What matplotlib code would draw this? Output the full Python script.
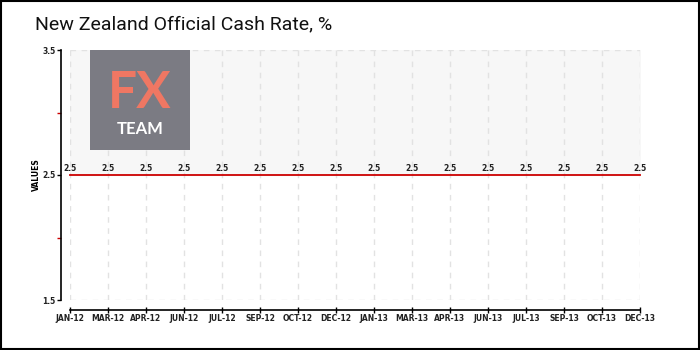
import matplotlib
matplotlib.use('Agg')
import matplotlib.pyplot as plt
from matplotlib.patches import Rectangle

# data
months = ['JAN-12', 'MAR-12', 'APR-12', 'JUN-12', 'JUL-12', 'SEP-12', 'OCT-12', 'DEC-12',
          'JAN-13', 'MAR-13', 'APR-13', 'JUN-13', 'JUL-13', 'SEP-13', 'OCT-13', 'DEC-13']
cash_rate = [2.5, 2.5, 2.5, 2.5, 2.5, 2.5, 2.5, 2.5,
             2.5, 2.5, 2.5, 2.5, 2.5, 2.5, 2.5, 2.5]

plt.rcParams['font.family'] = ['DejaVu Sans']

fig = plt.figure(figsize=(7, 3.5), dpi=100)
ax = fig.add_axes([70 / 700, 50 / 350, 570 / 700, 250 / 350])

x = list(range(len(months)))
ax.set_xlim(0, len(months) - 1)
ax.set_ylim(1.5, 3.5)

# shaded area above the line
ax.fill_between(x, cash_rate, 3.5, color='#f7f7f7', zorder=0)

# grid
for xi in x:
    ax.axvline(xi, color='#e2e2e2', lw=1, ls=(0, (4, 4)), zorder=1)
for yv in (1.5, 3.5):
    ax.axhline(yv, color='#e2e2e2', lw=1, ls=(0, (4, 4)), zorder=1)

ax.plot(x, cash_rate, color='#cc0000', lw=1.3, zorder=3, clip_on=False)

for xi, v in zip(x, cash_rate):
    ax.text(xi, v + 0.015, f'{v:g}', ha='center', va='bottom', fontsize=5.5,
            fontweight='bold', color='#222222')

# axes styling (outward offsets in points: 9px / 10px)
for s in ('top', 'right'):
    ax.spines[s].set_visible(False)
ax.spines['left'].set_position(('outward', 6.5))
ax.spines['bottom'].set_position(('outward', 7.2))
ax.spines['left'].set_linewidth(1.2)
ax.spines['bottom'].set_linewidth(1.2)
ax.spines['left'].set_bounds(1.5, 3.5)

ax.set_yticks([1.5, 2.5, 3.5])
ax.set_yticklabels(['1.5', '2.5', '3.5'])
ax.set_yticks([2.0, 3.0], minor=True)
ax.tick_params(axis='y', which='major', length=3, width=1, labelsize=5.5, pad=1)
ax.tick_params(axis='y', which='minor', length=3, width=1, color='#cc0000')
ax.set_xticks(x)
ax.set_xticklabels(months)
ax.tick_params(axis='x', length=5, width=1, labelsize=5.5, pad=0.5, direction='inout')
for lab in ax.get_xticklabels() + ax.get_yticklabels():
    lab.set_fontweight('bold')
    lab.set_color('#222222')

ax.set_ylabel('VALUES', fontsize=5.5, fontweight='bold', labelpad=1)

# logo
logo = fig.add_axes([90 / 700, 1 - 150 / 350, 100 / 700, 100 / 350])
logo.set_xlim(0, 1)
logo.set_ylim(0, 1)
logo.axis('off')
logo.add_patch(Rectangle((0, 0), 1, 1, color='#7b7b83'))
logo.text(0.5, 0.57, 'FX', ha='center', va='center', fontsize=37,
          color='#ef7763', fontfamily='Lato', fontweight='bold')
logo.text(0.5, 0.21, 'TEAM', ha='center', va='center', fontsize=12,
          color='white', fontweight='bold', fontfamily='Lato')

fig.text(35 / 700, 1 - 24 / 350, 'New Zealand Official Cash Rate, %', fontsize=14,
         va='center', ha='left', color='#111111', fontfamily='Roboto')

fig.patches.append(Rectangle((0.001, 0.002), 0.997, 0.995, transform=fig.transFigure,
                             fill=False, edgecolor='black', lw=1.5))

fig.savefig('out.png', dpi=100)
